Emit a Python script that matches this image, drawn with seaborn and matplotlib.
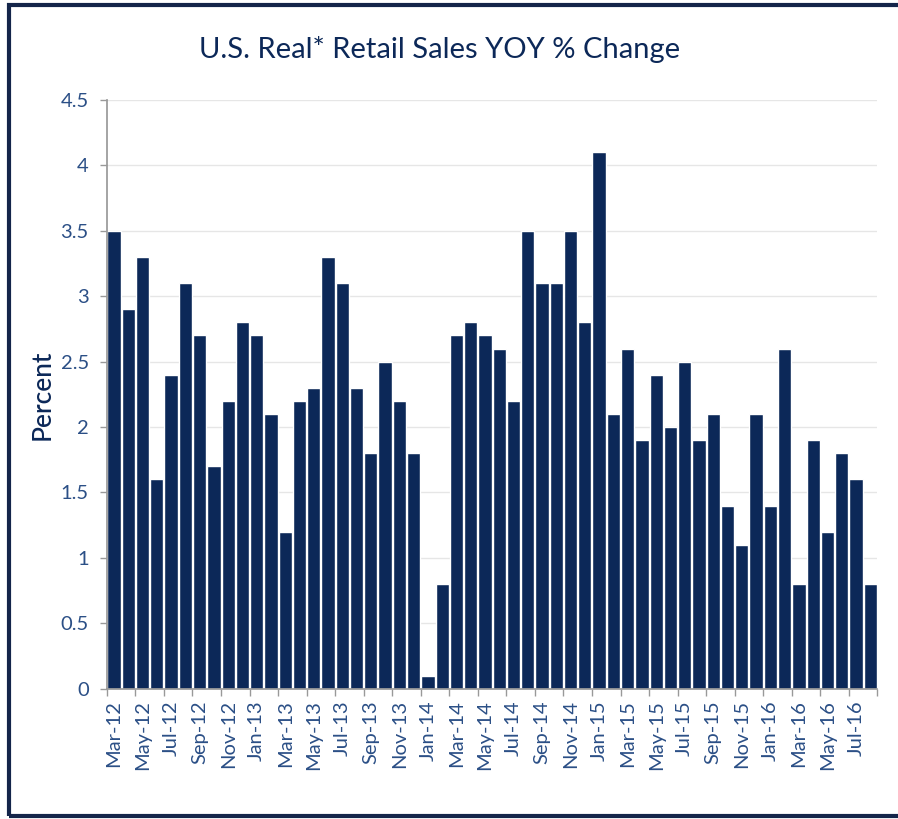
import matplotlib
matplotlib.use("Agg")
import matplotlib.pyplot as plt
import seaborn as sns
import pandas as pd
from matplotlib.patches import Rectangle

# =========================================
# DATA
# =========================================

months = [
    "Mar-12", "Apr-12", "May-12", "Jun-12", "Jul-12", "Aug-12", "Sep-12", "Oct-12", "Nov-12", "Dec-12",
    "Jan-13", "Feb-13", "Mar-13", "Apr-13", "May-13", "Jun-13", "Jul-13", "Aug-13", "Sep-13", "Oct-13", "Nov-13", "Dec-13",
    "Jan-14", "Feb-14", "Mar-14", "Apr-14", "May-14", "Jun-14", "Jul-14", "Aug-14", "Sep-14", "Oct-14", "Nov-14", "Dec-14",
    "Jan-15", "Feb-15", "Mar-15", "Apr-15", "May-15", "Jun-15", "Jul-15", "Aug-15", "Sep-15", "Oct-15", "Nov-15", "Dec-15",
    "Jan-16", "Feb-16", "Mar-16", "Apr-16", "May-16", "Jun-16", "Jul-16", "Aug-16",
]

yoy_change = [
    3.5, 2.9, 3.3, 1.6, 2.4, 3.1, 2.7, 1.7, 2.2, 2.8,
    2.7, 2.1, 1.2, 2.2, 2.3, 3.3, 3.1, 2.3, 1.8, 2.5, 2.2, 1.8,
    0.1, 0.8, 2.7, 2.8, 2.7, 2.6, 2.2, 3.5, 3.1, 3.1, 3.5, 2.8,
    4.1, 2.1, 2.6, 1.9, 2.4, 2.0, 2.5, 1.9, 2.1, 1.4, 1.1, 2.1,
    1.4, 2.6, 0.8, 1.9, 1.2, 1.8, 1.6, 0.8,
]

y_ticks = [0, 0.5, 1, 1.5, 2, 2.5, 3, 3.5, 4, 4.5]
y_tick_labels = ["0", "0.5", "1", "1.5", "2", "2.5", "3", "3.5", "4", "4.5"]

df = pd.DataFrame({"Month": months, "Percent": yoy_change})

# =========================================
# STYLE
# =========================================

sns.set_theme(style="white")
plt.rcParams["font.family"] = ["Lato", "DejaVu Sans"]

bar_color = "#0c2858"
text_color = "#2b4f86"

# =========================================
# PLOT
# =========================================

fig = plt.figure(figsize=(8.98, 8.19), dpi=100)
ax = fig.add_axes([0.119, 0.159, 0.858, 0.719])

sns.barplot(data=df, x="Month", y="Percent", color=bar_color, width=0.93,
            saturation=1, ax=ax)

ax.set_xlim(-0.5, len(months) - 0.5)
ax.set_ylim(0, 4.5)

ax.set_yticks(y_ticks)
ax.set_yticklabels(y_tick_labels)
ax.yaxis.grid(True, color="#e6e6e6", linewidth=1)
ax.set_axisbelow(True)

# labels every second month, tick marks between categories
ax.set_xticks(range(0, len(months), 2))
ax.set_xticklabels(months[::2], rotation=90)
ax.set_xticks([i - 0.5 for i in range(0, len(months) + 1, 2)], minor=True)
ax.tick_params(axis="x", which="major", length=0, pad=8, labelsize=14.5, labelcolor=text_color)
ax.tick_params(axis="x", which="minor", length=5, width=1, color="#999999", bottom=True)
ax.tick_params(axis="y", length=5, width=1, color="#999999", left=True, labelsize=14.5,
               labelcolor=text_color, pad=8)

for side in ["top", "right"]:
    ax.spines[side].set_visible(False)
ax.spines["left"].set_color("#999999")
ax.spines["bottom"].set_color("#999999")

ax.set_xlabel("")
ax.set_ylabel("Percent", fontsize=19, color="#0c2858", labelpad=4, fontweight="medium")

fig.text(0.49, 0.94, "U.S. Real* Retail Sales YOY % Change", ha="center", va="center",
         fontsize=21, color="#0c2858")

# frame around the figure
fig.patches.append(Rectangle((0.01, 0.004), 0.995, 0.99, transform=fig.transFigure,
                             fill=False, edgecolor="#14254a", linewidth=3))

plt.savefig("out.png", dpi=100)
